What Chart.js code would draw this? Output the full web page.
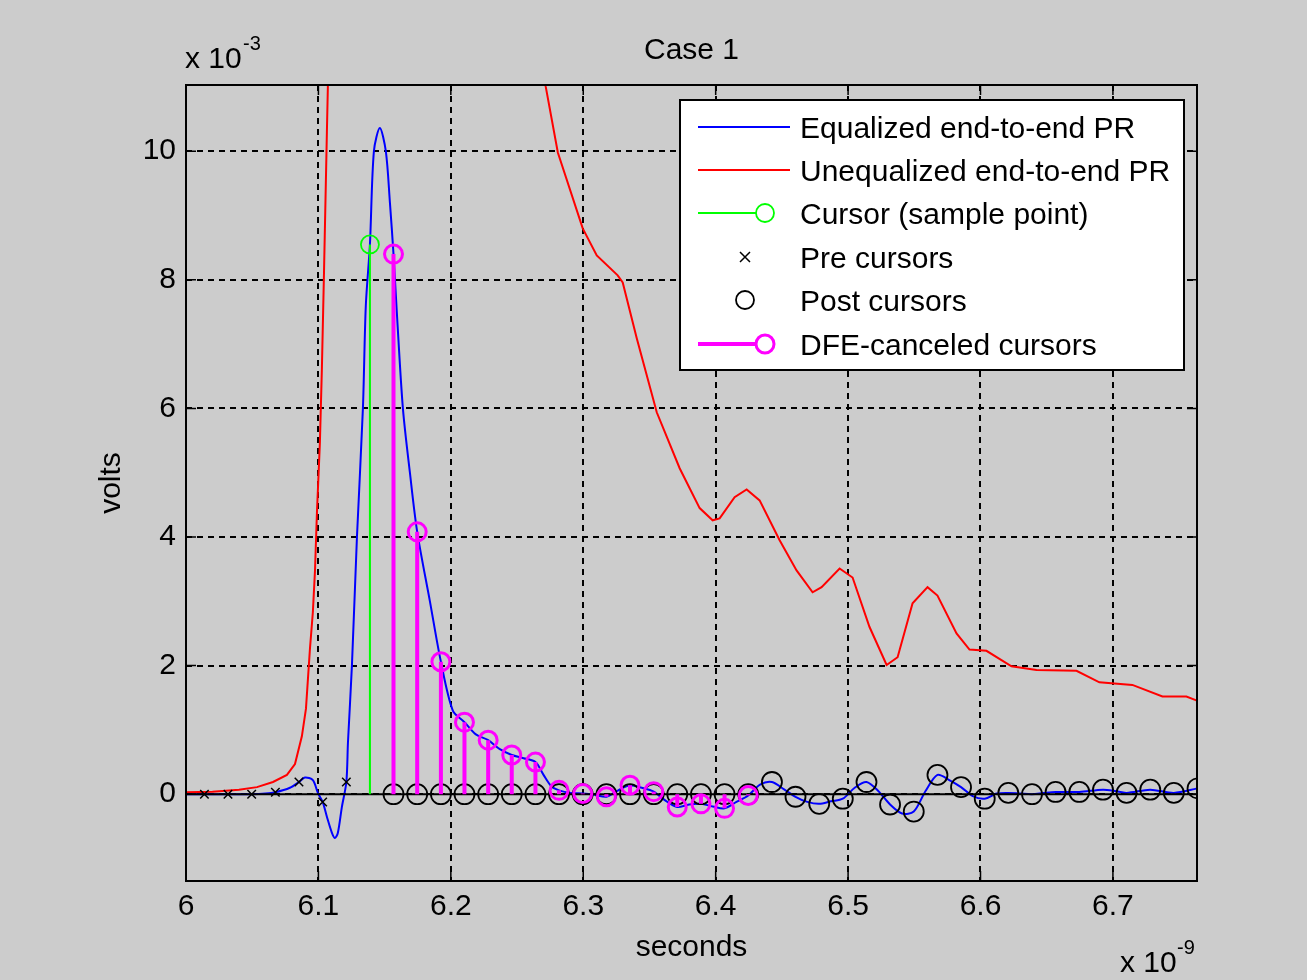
<!DOCTYPE html>
<html>
<head>
<meta charset="utf-8">
<title>Case 1</title>
<script src="https://cdn.jsdelivr.net/npm/chart.js@4.4.1/dist/chart.umd.min.js"></script>
<style>
  html, body { margin: 0; padding: 0; background: #cccccc; }
  #wrap { width: 1307px; height: 980px; position: relative; }
</style>
</head>
<body>
<div id="wrap"><canvas id="prChart"></canvas></div>
<script>
// Axis ticks (x in ns, y in mV)
const xTicks = [6, 6.1, 6.2, 6.3, 6.4, 6.5, 6.6, 6.7];
const yTicks = [0, 2, 4, 6, 8, 10];

// Sampled cursors
const preTimes  = [6.0139, 6.0317, 6.0496, 6.0675, 6.0853, 6.1032, 6.1211];
const preValues = [0.00, 0.00, 0.00, 0.03, 0.19, -0.12, 0.19];

const cursorTime = 6.1389;
const cursorValue = 8.55;

const postTimes = [6.1567, 6.1746, 6.1925, 6.2103, 6.2282, 6.2460, 6.2639, 6.2817, 6.2996, 6.3175,
                   6.3353, 6.3532, 6.3710, 6.3889, 6.4067, 6.4246, 6.4425, 6.4603, 6.4782, 6.4960,
                   6.5139, 6.5317, 6.5496, 6.5675, 6.5853, 6.6032, 6.6210, 6.6389, 6.6567, 6.6746,
                   6.6925, 6.7103, 6.7282, 6.7460, 6.7639];
const postValues = [0, 0, 0, 0, 0, 0, 0, 0, 0, 0, 0, 0, 0, 0, 0, 0,
                    0.19, -0.04, -0.15, -0.07, 0.19, -0.16, -0.27, 0.30, 0.11, -0.07,
                    0.02, 0.00, 0.035, 0.035, 0.07, 0.02, 0.07, 0.02, 0.09];

// first 16 post cursors are cancelled by the DFE
const dfeValues = [8.40, 4.08, 2.06, 1.12, 0.84, 0.61, 0.50, 0.06, 0.01, -0.04,
                   0.14, 0.04, -0.20, -0.15, -0.22, -0.02];

// Equalized pulse response
const eqTimes = [6.0000, 6.0139, 6.0317, 6.0496, 6.0600, 6.0675, 6.0785, 6.0853, 6.0898, 6.0958,
                 6.0996, 6.1032, 6.1064, 6.1102, 6.1125, 6.1147, 6.1177, 6.1211, 6.1223, 6.1253,
                 6.1291, 6.1336, 6.1358, 6.1389, 6.1419, 6.1464, 6.1509, 6.1540, 6.1567, 6.1592,
                 6.1638, 6.1691, 6.1746, 6.1842, 6.1925, 6.2015, 6.2103, 6.2189, 6.2282, 6.2370,
                 6.2460, 6.2550, 6.2639, 6.2700, 6.2760, 6.2817, 6.2906, 6.2996, 6.3085, 6.3175,
                 6.3264, 6.3353, 6.3442, 6.3532, 6.3621, 6.3710, 6.3799, 6.3889, 6.3978, 6.4067,
                 6.4157, 6.4246, 6.4335, 6.4425, 6.4514, 6.4603, 6.4692, 6.4782, 6.4871, 6.4960,
                 6.5050, 6.5139, 6.5228, 6.5317, 6.5407, 6.5496, 6.5585, 6.5675, 6.5764, 6.5853,
                 6.5942, 6.6032, 6.6121, 6.6210, 6.6300, 6.6389, 6.6478, 6.6567, 6.6746, 6.6925,
                 6.7014, 6.7103, 6.7282, 6.7460, 6.7639];
const eqValues = [0.00, 0.00, 0.00, 0.00, 0.01, 0.03, 0.10, 0.19, 0.26, 0.22,
                  0.02, -0.12, -0.35, -0.60, -0.68, -0.60, -0.20, 0.19, 0.80, 2.00,
                  4.00, 6.00, 7.60, 8.55, 10.00, 10.36, 10.00, 9.20, 8.40, 7.50,
                  6.00, 5.00, 4.08, 3.00, 2.06, 1.30, 1.12, 0.93, 0.84, 0.70,
                  0.61, 0.56, 0.50, 0.30, 0.12, 0.06, 0.02, 0.01, -0.01, -0.04,
                  0.06, 0.14, 0.10, 0.04, -0.10, -0.20, -0.16, -0.15, -0.19, -0.22,
                  -0.12, -0.02, 0.15, 0.19, 0.08, -0.04, -0.12, -0.15, -0.11, -0.07,
                  0.10, 0.19, 0.05, -0.16, -0.30, -0.27, 0.05, 0.30, 0.22, 0.11,
                  -0.03, -0.07, 0.01, 0.02, 0.01, 0.00, 0.02, 0.035, 0.035, 0.07,
                  0.05, 0.02, 0.07, 0.02, 0.09];

// Unequalized pulse response
const unTimes = [6.0000, 6.0200, 6.0400, 6.0536, 6.0657, 6.0762, 6.0823, 6.0875, 6.0906, 6.0936,
                 6.0958, 6.0974, 6.0989, 6.1011, 6.1026, 6.1042, 6.1064, 6.1087, 6.1300, 6.1700,
                 6.2200, 6.2600, 6.2717, 6.2808, 6.2996, 6.3102, 6.3260, 6.3298, 6.3404, 6.3555,
                 6.3728, 6.3879, 6.3977, 6.4030, 6.4143, 6.4234, 6.4332, 6.4483, 6.4611, 6.4732,
                 6.4800, 6.4936, 6.5034, 6.5162, 6.5291, 6.5374, 6.5487, 6.5600, 6.5675, 6.5819,
                 6.5917, 6.6045, 6.6234, 6.6423, 6.6725, 6.6898, 6.7147, 6.7374, 6.7555, 6.7630];
const unValues = [0.03, 0.04, 0.07, 0.11, 0.19, 0.30, 0.47, 0.90, 1.33, 2.26,
                  2.83, 3.47, 4.39, 5.46, 6.60, 8.10, 10.30, 12.50, 17.00, 20.00,
                  17.00, 12.50, 11.00, 9.98, 8.80, 8.38, 8.07, 7.96, 7.09, 5.94,
                  5.07, 4.45, 4.26, 4.29, 4.62, 4.74, 4.57, 3.95, 3.48, 3.14,
                  3.22, 3.51, 3.37, 2.60, 2.01, 2.13, 2.97, 3.22, 3.09, 2.50,
                  2.25, 2.23, 1.99, 1.93, 1.92, 1.74, 1.70, 1.52, 1.52, 1.46];

const xMin = 6, xMax = 6.7635;
const yMin = -1.35, yMax = 11.03;

const FONT = "'Liberation Sans', Arial, sans-serif";
const BLUE = '#0000ff', RED = '#ff0000', GREEN = '#00ff00', MAGENTA = '#ff00ff';

function zipXY(xs, ys) {
    return xs.map((x, i) => ({ x: x, y: ys[i] }));
}

// stem lines: 0 -> value, broken by a null between stems
function stems(xs, ys) {
    const pts = [];
    xs.forEach((x, i) => {
        pts.push({ x: x, y: 0 }, { x: x, y: ys[i] }, { x: x, y: null });
    });
    return pts;
}

const dfeTimes = postTimes.slice(0, dfeValues.length);

// axes box, inward ticks, labels and legend, MATLAB style
const figureDecor = {
    id: 'figureDecor',
    afterDraw(chart) {
        const { ctx, chartArea: { left, right, top, bottom }, scales: { x, y } } = chart;
        ctx.save();
        ctx.strokeStyle = '#000';
        ctx.lineWidth = 1.5;
        ctx.setLineDash([]);
        ctx.beginPath();
        xTicks.forEach(v => {
            const px = x.getPixelForValue(v);
            ctx.moveTo(px, bottom); ctx.lineTo(px, bottom - 10);
            ctx.moveTo(px, top); ctx.lineTo(px, top + 10);
        });
        yTicks.forEach(v => {
            const py = y.getPixelForValue(v);
            ctx.moveTo(left, py); ctx.lineTo(left + 10, py);
            ctx.moveTo(right, py); ctx.lineTo(right - 10, py);
        });
        ctx.stroke();
        ctx.lineWidth = 2;
        ctx.strokeRect(left, top, right - left, bottom - top);

        // titles
        ctx.fillStyle = '#000';
        ctx.font = '30px ' + FONT;
        ctx.textAlign = 'center';
        ctx.textBaseline = 'alphabetic';
        ctx.fillText('Case 1', (left + right) / 2, 59);
        ctx.fillText('seconds', (left + right) / 2, 956);
        ctx.save();
        ctx.translate(120, (top + bottom) / 2);
        ctx.rotate(-Math.PI / 2);
        ctx.fillText('volts', 0, 0);
        ctx.restore();

        // exponent labels
        ctx.textAlign = 'left';
        ctx.fillText('x 10', 185, 68);
        ctx.fillText('x 10', 1120, 972);
        ctx.font = '20px ' + FONT;
        ctx.fillText('-3', 243, 50);
        ctx.fillText('-9', 1177, 954);

        // legend
        const lx = 680, ly = 100, lw = 504, lh = 270;
        ctx.fillStyle = '#fff';
        ctx.fillRect(lx, ly, lw, lh);
        ctx.lineWidth = 2;
        ctx.strokeRect(lx, ly, lw, lh);

        const rows = [
            { text: 'Equalized end-to-end PR', base: 138 },
            { text: 'Unequalized end-to-end PR', base: 181 },
            { text: 'Cursor (sample point)', base: 224 },
            { text: 'Pre cursors', base: 268 },
            { text: 'Post cursors', base: 311 },
            { text: 'DFE-canceled cursors', base: 355 }
        ];
        ctx.font = '30px ' + FONT;
        ctx.fillStyle = '#000';
        rows.forEach(r => ctx.fillText(r.text, 800, r.base));

        const mid = rows.map(r => r.base - 11);
        function seg(yy, color, w, x2) {
            ctx.strokeStyle = color; ctx.lineWidth = w;
            ctx.beginPath(); ctx.moveTo(698, yy); ctx.lineTo(x2, yy); ctx.stroke();
        }
        function ring(cx, cy, r, color, w) {
            ctx.strokeStyle = color; ctx.lineWidth = w;
            ctx.beginPath(); ctx.arc(cx, cy, r, 0, Math.PI * 2); ctx.stroke();
        }
        seg(mid[0], BLUE, 2, 790);
        seg(mid[1], RED, 2, 790);
        seg(mid[2], GREEN, 2, 756);
        ring(765, mid[2], 9, GREEN, 1.8);
        ctx.strokeStyle = '#000'; ctx.lineWidth = 1.5;
        ctx.beginPath();
        ctx.moveTo(740, mid[3] - 5); ctx.lineTo(750, mid[3] + 5);
        ctx.moveTo(750, mid[3] - 5); ctx.lineTo(740, mid[3] + 5);
        ctx.stroke();
        ring(745, mid[4], 9, '#000', 1.8);
        seg(mid[5], MAGENTA, 4, 756);
        ring(765, mid[5], 9, MAGENTA, 3);
        ctx.restore();
    }
};

const ctx = document.getElementById('prChart').getContext('2d');
new Chart(ctx, {
    type: 'line',
    data: {
        datasets: [
            {   // DFE-canceled cursor markers
                data: zipXY(dfeTimes, dfeValues),
                showLine: false, pointStyle: 'circle', pointRadius: 9,
                pointBorderWidth: 3, pointBorderColor: MAGENTA, pointBackgroundColor: 'rgba(0,0,0,0)'
            },
            {   // DFE stems
                data: stems(dfeTimes, dfeValues),
                borderColor: MAGENTA, borderWidth: 4, pointRadius: 0, spanGaps: false
            },
            {   // main cursor marker
                data: [{ x: cursorTime, y: cursorValue }],
                showLine: false, pointStyle: 'circle', pointRadius: 9,
                pointBorderWidth: 1.8, pointBorderColor: GREEN, pointBackgroundColor: 'rgba(0,0,0,0)'
            },
            {   // main cursor stem
                data: stems([cursorTime], [cursorValue]),
                borderColor: GREEN, borderWidth: 2, pointRadius: 0, spanGaps: false
            },
            {   // post cursors
                data: zipXY(postTimes, postValues),
                showLine: false, pointStyle: 'circle', pointRadius: 10,
                pointBorderWidth: 1.8, pointBorderColor: '#000', pointBackgroundColor: 'rgba(0,0,0,0)'
            },
            {   // pre cursors
                data: zipXY(preTimes, preValues),
                showLine: false, pointStyle: 'crossRot', pointRadius: 6,
                pointBorderWidth: 1.5, pointBorderColor: '#000'
            },
            {   // stem baseline
                data: [{ x: xMin, y: 0 }, { x: xMax, y: 0 }],
                borderColor: '#000', borderWidth: 2, pointRadius: 0
            },
            {   // equalized PR
                data: zipXY(eqTimes, eqValues),
                borderColor: BLUE, borderWidth: 2, pointRadius: 0, tension: 0.3
            },
            {   // unequalized PR
                data: zipXY(unTimes, unValues),
                borderColor: RED, borderWidth: 2, pointRadius: 0
            }
        ]
    },
    options: {
        responsive: true,
        maintainAspectRatio: false,
        animation: false,
        events: [],
        layout: { padding: { left: 0, top: 85, right: 110, bottom: 0 } },
        plugins: { legend: { display: false }, tooltip: { enabled: false } },
        scales: {
            x: {
                type: 'linear', min: xMin, max: xMax,
                afterBuildTicks: s => { s.ticks = xTicks.map(v => ({ value: v })); },
                afterFit: s => { s.height = 99; },
                grid: { color: '#000', lineWidth: 2, drawTicks: false },
                border: { display: false, dash: [6, 5] },
                ticks: {
                    padding: 8, color: '#000', font: { family: FONT, size: 30 },
                    maxRotation: 0, autoSkip: false,
                    callback: v => String(Math.round(v * 10) / 10)
                }
            },
            y: {
                type: 'linear', min: yMin, max: yMax,
                afterBuildTicks: s => { s.ticks = yTicks.map(v => ({ value: v })); },
                afterFit: s => { s.width = 186; },
                grid: { color: '#000', lineWidth: 2, drawTicks: false },
                border: { display: false, dash: [6, 5] },
                ticks: {
                    padding: 10, color: '#000', font: { family: FONT, size: 30 },
                    autoSkip: false,
                    callback: v => String(v)
                }
            }
        }
    },
    plugins: [figureDecor]
});
</script>
</body>
</html>
